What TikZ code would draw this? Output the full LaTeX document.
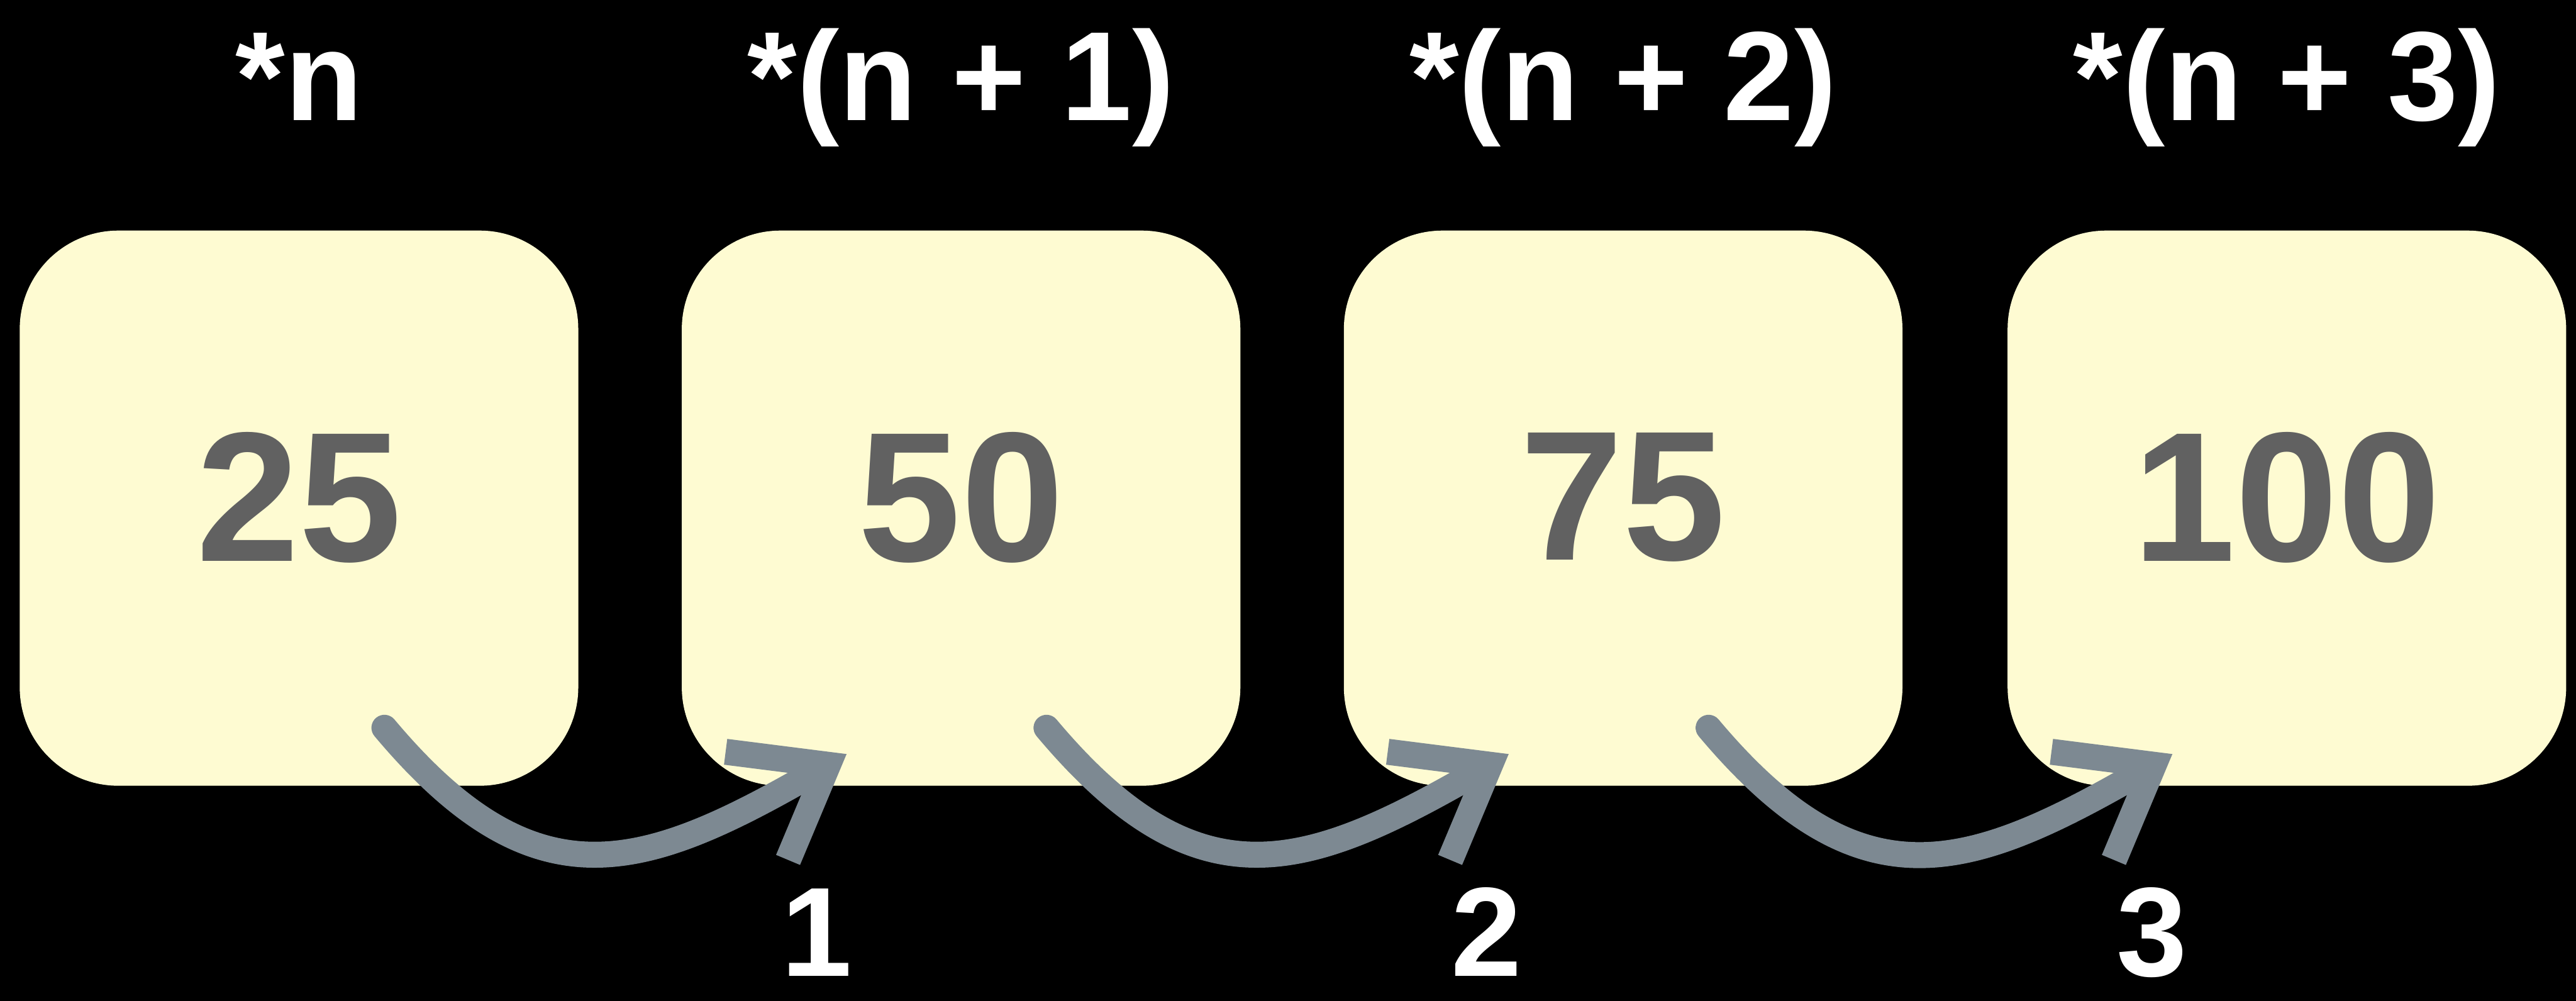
\documentclass[tikz,border=0pt]{standalone}
\usepackage{fontspec}
\setmainfont{Liberation Sans}
\usetikzlibrary{arrows.meta}

\definecolor{cellfill}{HTML}{FEFBD2}
\definecolor{numgray}{HTML}{616161}
\definecolor{hopgray}{HTML}{7D8992}

\tikzset{
    cell/.style={fill=cellfill, rounded corners=0.6cm, minimum width=3.4cm, minimum height=3.38cm,
        inner sep=0pt, text depth=0.14cm, text=numgray, font=\fontsize{32}{32}\selectfont\bfseries},
    ptr/.style={font=\fontsize{22}{22}\selectfont\bfseries, text=white, anchor=base, inner sep=0pt},
    hop/.style={hopgray, line width=4.5pt, line cap=round,
        -{Straight Barb[length=5mm, width=7.6mm]}}
}

\begin{document}
\begin{tikzpicture}
    \useasboundingbox (0,0) rectangle (15.68,6.094);
    \fill[black] (0,0) rectangle (15.68,6.094);

    % Cells
    \node[cell] (c1) at (1.82, 3.0) {25};
    \node[cell] (c2) at (5.85, 3.0) {50};
    \node[cell] (c3) at (9.88, 3.0) {75};
    \node[cell] (c4) at (13.92, 3.0) {100};

    % Pointer labels
    \node[ptr] (p1) at (1.82, 5.36) {*n};
    \node[ptr] (p2) at (5.85, 5.36) {*(n + 1)};
    \node[ptr] (p3) at (9.88, 5.36) {*(n + 2)};
    \node[ptr] (p4) at (13.92, 5.36) {*(n + 3)};

    % Hops
    \draw[hop] ([xshift=0.52cm, yshift=0.36cm]c1.south) to[out=-50, in=210, looseness=1.3] ([xshift=1.01cm, yshift=0.2cm]c2.south west);
    \draw[hop] ([xshift=0.52cm, yshift=0.36cm]c2.south) to[out=-50, in=210, looseness=1.3] ([xshift=1.01cm, yshift=0.2cm]c3.south west);
    \draw[hop] ([xshift=0.52cm, yshift=0.36cm]c3.south) to[out=-50, in=210, looseness=1.3] ([xshift=1.01cm, yshift=0.2cm]c4.south west);

    % Offsets
    \node[ptr] (o1) at (4.97, 0.15) {1};
    \node[ptr] (o2) at (9.05, 0.15) {2};
    \node[ptr] (o3) at (13.10, 0.15) {3};
\end{tikzpicture}
\end{document}
